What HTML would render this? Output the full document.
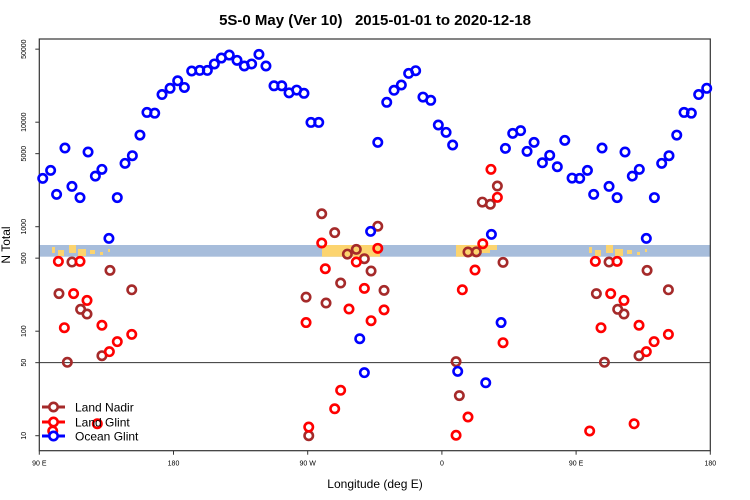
<!DOCTYPE html>
<html><head><meta charset="utf-8"><style>
body{margin:0;background:#fff;font-family:"Liberation Sans",sans-serif}
svg{display:block}
</style></head><body>
<svg id="chart" width="750" height="500" xmlns="http://www.w3.org/2000/svg">
<text x="375" y="25" text-anchor="middle" font-size="15" font-weight="bold" font-family="Liberation Sans, sans-serif" xml:space="preserve">5S-0 May (Ver 10)   2015-01-01 to 2020-12-18</text>
<text x="375" y="488" text-anchor="middle" font-size="12" font-family="Liberation Sans, sans-serif">Longitude (deg E)</text>
<text transform="translate(10,245) rotate(-90)" text-anchor="middle" font-size="12" font-family="Liberation Sans, sans-serif">N Total</text>
<g id="strip"></g>
<g id="axes"></g>
<g id="marks"></g>
<g id="legend"></g>
</svg>
<script>
// x tick values (continuous longitude 90..540) and labels
const xTicks=[90,180,270,360,450,540];
const xTickLabels=["90 E","180","90 W","0","90 E","180"];
const yTicks=[10,50,100,500,1000,5000,10000,50000];
const yTickLabels=["10","50","100","500","1000","5000","10000","50000"];
const refLine=50;
const seriesNames=["Land Nadir","Land Glint","Ocean Glint"];
const seriesColors=["#a52a2a","#ff0000","#0000ff"];
// Ocean Glint
const oceanLon=[92.3,97.6,101.6,107.2,111.9,117.3,122.7,127.6,132.0,136.7,142.3,147.5,152.4,157.5,162.2,167.4,172.3,177.7,182.8,187.3,192.2,197.6,202.7,207.4,212.1,217.4,222.6,227.5,232.4,237.3,242.0,247.4,252.6,257.5,262.6,267.5,272.2,277.4,304.9,308.0,312.2,317.0,323.0,327.9,332.8,337.7,342.4,347.3,352.5,357.6,362.8,367.2,370.6,389.4,393.2,399.7,402.6,407.5,412.8,417.1,421.8,427.4,432.3,437.4,442.4,447.3,452.4,457.6,461.8,467.4,472.1,477.5,482.8,487.7,492.4,497.1,502.5,507.4,512.3,517.5,522.4,527.3,532.2,537.6];
const oceanN=[2900,3460,2040,5660,2430,1900,5190,3050,3540,773,1900,4040,4780,7530,12400,12200,18400,21100,24900,21500,30900,31300,31300,36100,41100,43900,39100,34500,36100,44600,34500,22300,22300,19100,20300,18900,9950,9950,84.7,40.1,902,6410,15500,20200,22700,29300,31100,17400,16200,9400,8000,6050,41.3,32.1,845,121,5620,7820,8300,5260,6410,4090,4820,3750,6700,2920,2900,3460,2040,5660,2430,1900,5190,3050,3540,773,1900,4040,4780,7530,12400,12200,18400,21100];
// Land Glint
const glintLon=[102.8,113.0,117.3,106.8,122.0,132.0,137.0,142.3,152.0,99.0,128.9,268.9,270.7,279.4,281.8,288.1,292.1,297.7,302.6,308.0,312.5,317.0,321.2,373.7,382.2,387.4,392.9,397.2,401.0,369.5,377.5,459.1,462.9,466.7,473.2,477.5,482.1,488.9,492.2,497.1,502.3,511.9];
const glintN=[466,229,466,108,197,114,63.7,79.4,93.3,11.1,13.0,121,12.1,698,396,18.1,27.2,163,459,257,126,621,160,249,385,687,3540,1910,77.6,10.1,15.1,11.1,466,108,229,466,197,13.0,114,63.7,79.4,93.3];
// Land Nadir
const nadirLon=[103.2,108.8,111.9,117.7,122.0,132.0,137.4,152.0,268.9,270.7,279.4,282.3,288.1,292.1,296.6,302.6,308.0,312.5,317.0,321.2,369.5,371.7,377.5,383.1,387.1,392.5,397.2,401.0,463.6,469.0,472.1,477.9,482.1,492.2,497.6,511.9];
const nadirN=[229,50.4,459,162,146,58.3,382,249,212,10.0,1330,186,877,289,547,607,494,377,1010,246,51.1,24.2,573,575,1720,1640,2450,456,229,50.4,459,162,146,58.3,382,249];

const NS="http://www.w3.org/2000/svg";
const L=39.3,R=710.3,T=39,B=450.7;
const xS=lon=>L+(lon-90)*(R-L)/450;
const yS=v=>435.7-104.5*(Math.log10(v)-1);
function mk(tag,attrs,parent){const e=document.createElementNS(NS,tag);for(const k in attrs)e.setAttribute(k,attrs[k]);parent.appendChild(e);return e;}
const strip=document.getElementById('strip');
const axes=document.getElementById('axes');
const marks=document.getElementById('marks');
const leg=document.getElementById('legend');

// map strip
mk('rect',{x:L,y:245,width:R-L,height:11.7,fill:'#a7bddb'},strip);
const landRects=[[52,247,3,6],[58,250,6,6],[69,245,7,8],[78,249,8,7],[90,250,5,4],[100,252,3,3],[108,249,2,3],[322,245,58,11.7],[456,245,22,11.7],[478,245,12,8],[490,245,7,5],[589,247,3,6],[595,250,6,6],[606,245,7,8],[615,249,8,7],[627,250,5,4],[637,252,3,3],[645,249,2,3]];
landRects.forEach(r=>{mk('rect',{x:r[0],y:r[1],width:r[2],height:r[3],fill:'#fcd46f'},strip);});

// box
const box=mk('rect',{x:L,y:T,width:R-L,height:B-T,fill:'none',stroke:'#333','stroke-width':1.2},axes);


const ref=mk('line',{x1:L,x2:R,y1:yS(refLine),y2:yS(refLine),stroke:'#333','stroke-width':1},axes);


xTicks.forEach((t,i)=>{
  const x=xS(t);
  mk('line',{x1:x,x2:x,y1:B,y2:B+4,stroke:'#333'},axes);
  const tx=mk('text',{x:x,y:B+15,'text-anchor':'middle','font-size':7,'font-family':'Liberation Sans, sans-serif'},axes);
  tx.textContent=xTickLabels[i];
  
  
});
yTicks.forEach((t,i)=>{
  const y=yS(t);
  mk('line',{x1:L-4,x2:L,y1:y,y2:y,stroke:'#333'},axes);
  const tx=mk('text',{transform:`translate(26,${y}) rotate(-90)`,'text-anchor':'middle','font-size':7,'font-family':'Liberation Sans, sans-serif'},axes);
  tx.textContent=yTickLabels[i];
  
  
});

function drawSeries(lons,vals,color,name){
  lons.forEach((lon,i)=>{
    const c=mk('circle',{cx:xS(lon),cy:yS(vals[i]),r:4.2,fill:'none',stroke:color,'stroke-width':2.6},marks);
    
    
  });
}
drawSeries(nadirLon,nadirN,seriesColors[0],'land-nadir-point');
drawSeries(glintLon,glintN,seriesColors[1],'land-glint-point');
drawSeries(oceanLon,oceanN,seriesColors[2],'ocean-glint-point');

// legend
const legY=[407,422,436];
seriesNames.forEach((n,i)=>{
  const g=mk('g',{},leg);
  
  
  mk('line',{x1:42,x2:65,y1:legY[i],y2:legY[i],stroke:seriesColors[i],'stroke-width':3},g);
  mk('circle',{cx:53.5,cy:legY[i],r:4.2,fill:'#fff',stroke:seriesColors[i],'stroke-width':2.6},g);
  const t=mk('text',{x:75,y:legY[i]+4.5,'font-size':12,'font-family':'Liberation Sans, sans-serif'},g);
  t.textContent=n;
});
</script>
</body></html>
